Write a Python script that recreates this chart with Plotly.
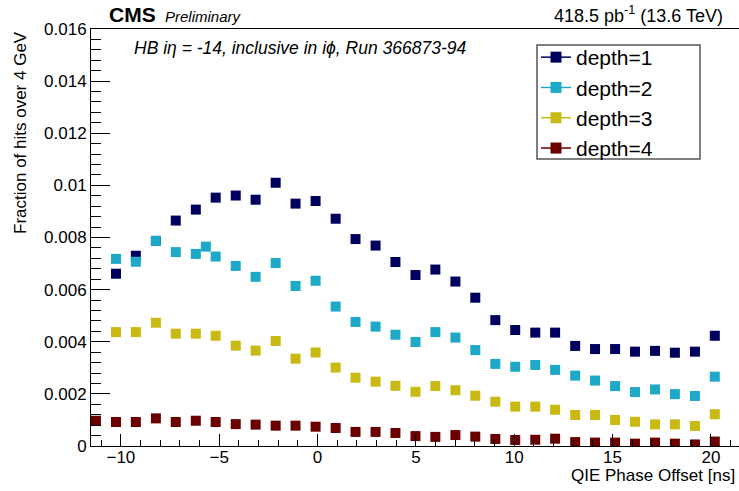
import plotly.graph_objects as go

# QIE phase offset positions [ns]
x_main = [-10.25, -9.24, -8.22, -7.21, -6.19, -5.18, -4.16, -3.15, -2.13, -1.12,
          -0.10, 0.92, 1.93, 2.95, 3.96, 4.98, 5.99, 7.01, 8.02, 9.04,
          10.05, 11.07, 12.08, 13.10, 14.11, 15.13, 16.14, 17.16, 18.17, 19.19, 20.20]

depth1 = [0.00661, 0.00730, 0.00787, 0.00865, 0.00907, 0.00953, 0.00961, 0.00945, 0.01010, 0.00930,
          0.00940, 0.00872, 0.00794, 0.00769, 0.00706, 0.00656, 0.00677, 0.00631, 0.00569, 0.00483,
          0.00445, 0.00435, 0.00435, 0.00384, 0.00372, 0.00372, 0.00362, 0.00365, 0.00358, 0.00362, 0.00423]

x_d2 = [-10.25, -9.24, -8.22, -7.21, -6.19, -5.68, -5.18, -4.16, -3.15, -2.13, -1.12,
        -0.10, 0.92, 1.93, 2.95, 3.96, 4.98, 5.99, 7.01, 8.02, 9.04,
        10.05, 11.07, 12.08, 13.10, 14.11, 15.13, 16.14, 17.16, 18.17, 19.19, 20.20]
depth2 = [0.00718, 0.00707, 0.00787, 0.00744, 0.00737, 0.00765, 0.00727, 0.00691, 0.00649, 0.00702, 0.00614,
          0.00634, 0.00535, 0.00476, 0.00458, 0.00427, 0.00399, 0.00437, 0.00416, 0.00368, 0.00315,
          0.00304, 0.00311, 0.00292, 0.00270, 0.00251, 0.00230, 0.00207, 0.00217, 0.00199, 0.00192, 0.00266]

depth3 = [0.00437, 0.00437, 0.00473, 0.00431, 0.00431, 0.00423, 0.00385, 0.00366, 0.00403, 0.00335,
          0.00359, 0.00301, 0.00262, 0.00247, 0.00231, 0.00208, 0.00230, 0.00214, 0.00193, 0.00170,
          0.00151, 0.00151, 0.00139, 0.00119, 0.00119, 0.00100, 0.00093, 0.00083, 0.00083, 0.00077, 0.00122]

x_d4 = [-11.27] + x_main
depth4 = [0.00097, 0.00092, 0.00092, 0.00106, 0.00092, 0.00097, 0.00092, 0.00084, 0.00082, 0.00078, 0.00078,
          0.00074, 0.00069, 0.00054, 0.00054, 0.00050, 0.00038, 0.00035, 0.00042, 0.00036, 0.00027,
          0.00023, 0.00024, 0.00028, 0.00015, 0.00013, 0.00013, 0.00009, 0.00013, 0.00009, 0.00006, 0.00017]

names = ["depth=1", "depth=2", "depth=3", "depth=4"]
colors = ["#00005e", "#1fa9c8", "#c9b912", "#6b0000"]

y_tickvals = [0, 0.002, 0.004, 0.006, 0.008, 0.01, 0.012, 0.014, 0.016]
y_ticktext = ["0", "0.002", "0.004", "0.006", "0.008", "0.01", "0.012", "0.014", "0.016"]
x_tickvals = [-10, -5, 0, 5, 10, 15, 20]
x_ticktext = ["\u221210", "\u22125", "0", "5", "10", "15", "20"]

FONT = "Liberation Sans, Arial, sans-serif"

fig = go.Figure()
series = [(x_main, depth1), (x_d2, depth2), (x_main, depth3), (x_d4, depth4)]
for (xs, ys), name, col in zip(series, names, colors):
    fig.add_trace(go.Scatter(x=xs, y=ys, mode="markers", name=name, showlegend=False,
                             marker=dict(symbol="square", size=10, color=col, line=dict(width=0)),
                             cliponaxis=True))
for name, col in zip(names, colors):
    fig.add_trace(go.Scatter(x=[None], y=[None], mode="lines+markers", name=name,
                             line=dict(color=col, width=1.5),
                             marker=dict(symbol="square", size=11, color=col, line=dict(width=0))))

W, H = 739, 491
L, R, T, B = 91, 0, 29, 45
pw, ph = W - L - R, H - T - B

def px(xp):
    return (xp - L) / pw

def py(yp):
    return (H - B - yp) / ph

fig.update_layout(
    width=W, height=H,
    margin=dict(l=L, r=R, t=T, b=B),
    plot_bgcolor="white", paper_bgcolor="white",
    font=dict(family=FONT, size=17, color="black"),
    showlegend=True,
    legend=dict(x=px(536), y=py(37), xanchor="left", yanchor="top",
                bgcolor="rgba(0,0,0,0)", borderwidth=0,
                font=dict(size=21, family=FONT), itemwidth=30, tracegroupgap=0),
    xaxis=dict(range=[-11.52, 21.43], showgrid=False, zeroline=False,
               showline=True, linecolor="black", linewidth=1, mirror=True,
               ticks="inside", ticklen=12, tickcolor="black", tickwidth=1,
               tickmode="array", tickvals=x_tickvals, ticktext=x_ticktext,
               tickfont=dict(size=17), ticklabelstandoff=-4,
               minor=dict(ticks="inside", ticklen=6, dtick=1, tick0=0, tickcolor="black")),
    yaxis=dict(range=[0, 0.016], showgrid=False, zeroline=False,
               showline=True, linecolor="black", linewidth=1,
               ticks="inside", ticklen=19, tickcolor="black", tickwidth=1,
               tickmode="array", tickvals=y_tickvals, ticktext=y_ticktext,
               tickfont=dict(size=17),
               minor=dict(ticks="inside", ticklen=10, dtick=0.0004, tick0=0, tickcolor="black")),
)

fig.add_shape(type="rect", xref="paper", yref="paper",
              x0=px(537), x1=px(700), y0=py(159), y1=py(45),
              line=dict(color="#555", width=1.5), fillcolor="white", layer="above")

ann = [
    dict(text="<b>CMS</b>", x=px(107), y=py(15), xanchor="left", yanchor="middle", font=dict(size=21)),
    dict(text="<i>Preliminary</i>", x=px(163), y=py(17), xanchor="left", yanchor="middle", font=dict(size=15)),
    dict(text="418.5 pb<sup>-1</sup> (13.6 TeV)", x=px(725), y=py(15), xanchor="right", yanchor="middle", font=dict(size=18)),
    dict(text="<i>HB i\u03b7 = -14, inclusive in i\u03d5, Run 366873-94</i>", x=px(132), y=py(48),
         xanchor="left", yanchor="middle", font=dict(size=17.5)),
    dict(text="QIE Phase Offset [ns]", x=px(737), y=py(475), xanchor="right", yanchor="middle", font=dict(size=17)),
    dict(text="Fraction of hits over 4 GeV", x=px(20), y=py(133), xanchor="center", yanchor="middle",
         textangle=-90, font=dict(size=17)),
]
for a in ann:
    fig.add_annotation(xref="paper", yref="paper", showarrow=False, **a)

fig.write_html("out.html")
